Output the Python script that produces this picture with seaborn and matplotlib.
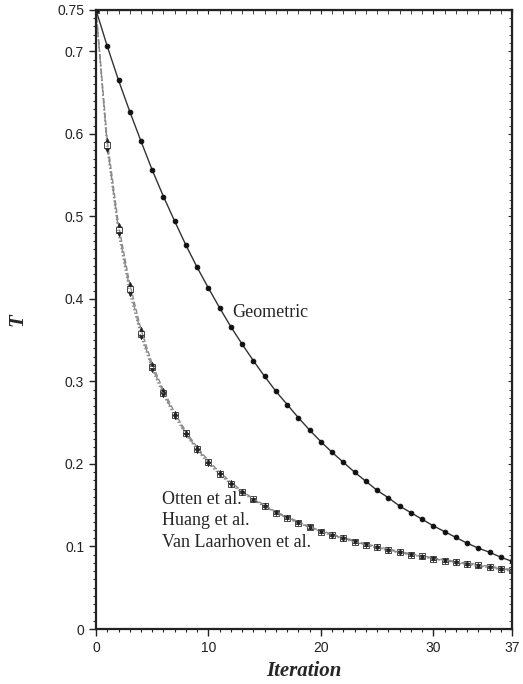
import matplotlib
matplotlib.use("Agg")
import matplotlib.pyplot as plt
from matplotlib.ticker import MultipleLocator, FixedLocator
import seaborn as sns
import pandas as pd

# iteration index and temperature series
iteration = list(range(38))
geometric = [0.750, 0.706, 0.665, 0.627, 0.591, 0.556, 0.524, 0.494, 0.465, 0.438,
             0.413, 0.389, 0.366, 0.345, 0.325, 0.306, 0.288, 0.272, 0.256, 0.241,
             0.227, 0.214, 0.202, 0.190, 0.179, 0.168, 0.159, 0.149, 0.141, 0.133,
             0.125, 0.118, 0.111, 0.104, 0.098, 0.093, 0.087, 0.082]
otten = [0.750, 0.592, 0.490, 0.418, 0.363, 0.321, 0.289, 0.262, 0.239, 0.220,
         0.204, 0.190, 0.178, 0.167, 0.158, 0.150, 0.142, 0.136, 0.130, 0.124,
         0.119, 0.115, 0.111, 0.107, 0.103, 0.100, 0.097, 0.094, 0.091, 0.089,
         0.086, 0.084, 0.082, 0.080, 0.078, 0.076, 0.074, 0.072]
huang = [0.750, 0.580, 0.478, 0.406, 0.354, 0.314, 0.283, 0.257, 0.235, 0.216,
         0.200, 0.187, 0.175, 0.165, 0.156, 0.148, 0.141, 0.134, 0.128, 0.123,
         0.118, 0.113, 0.109, 0.105, 0.102, 0.098, 0.095, 0.092, 0.090, 0.087,
         0.085, 0.083, 0.080, 0.078, 0.076, 0.074, 0.072, 0.070]
laarhoven = [0.750, 0.586, 0.484, 0.412, 0.358, 0.317, 0.286, 0.259, 0.237, 0.218,
             0.202, 0.188, 0.176, 0.166, 0.157, 0.149, 0.141, 0.135, 0.129, 0.123,
             0.118, 0.114, 0.110, 0.106, 0.102, 0.099, 0.096, 0.093, 0.090, 0.088,
             0.085, 0.083, 0.081, 0.079, 0.077, 0.075, 0.073, 0.071]

x_ticks = [0, 10, 20, 30, 37]
y_ticks = [0, 0.1, 0.2, 0.3, 0.4, 0.5, 0.6, 0.7, 0.75]
y_labels = ["0", "0.1", "0.2", "0.3", "0.4", "0.5", "0.6", "0.7", "0.75"]

df = pd.DataFrame({"Iteration": iteration, "Geometric": geometric, "Otten": otten,
                   "Huang": huang, "Laarhoven": laarhoven})

sns.set_style("ticks")
plt.rcParams["font.family"] = ["Liberation Sans", "DejaVu Sans"]

fig = plt.figure(figsize=(5.23, 6.84), dpi=100)
ax = fig.add_axes([0.1836, 0.0804, 0.7954, 0.905])

grey = "#8a8a8a"
sns.lineplot(data=df, x="Iteration", y="Laarhoven", ax=ax, color=grey, lw=1.0,
             linestyle="-.", marker="s", markersize=3.8, markerfacecolor="white",
             markeredgecolor="#444444", markeredgewidth=0.7)
sns.lineplot(data=df, x="Iteration", y="Otten", ax=ax, color=grey, lw=1.0,
             linestyle="--", marker="^", markersize=3.2, markerfacecolor="#222222",
             markeredgecolor="#222222", markeredgewidth=0.4)
sns.lineplot(data=df, x="Iteration", y="Huang", ax=ax, color=grey, lw=1.0,
             linestyle=":", marker="v", markersize=3.2, markerfacecolor="#222222",
             markeredgecolor="#222222", markeredgewidth=0.4)
sns.lineplot(data=df, x="Iteration", y="Geometric", ax=ax, color="#333333", lw=1.0,
             marker="o", markersize=3.3, markerfacecolor="#111111",
             markeredgecolor="#111111")

ax.set_xlim(0, 37)
ax.set_ylim(0, 0.75)
ax.xaxis.set_major_locator(FixedLocator(x_ticks))
ax.xaxis.set_minor_locator(MultipleLocator(1))
ax.yaxis.set_major_locator(FixedLocator(y_ticks))
ax.yaxis.set_minor_locator(MultipleLocator(0.01))
ax.set_yticklabels(y_labels)
ax.tick_params(which="major", direction="out", length=5, width=1, labelsize=10,
               colors="#222222")
ax.tick_params(which="minor", direction="out", length=2.5, width=0.8)

for s in ax.spines.values():
    s.set_visible(True)
    s.set_linewidth(1.6)
    s.set_color("#222222")

top = ax.secondary_xaxis("top")
top.xaxis.set_major_locator(FixedLocator(x_ticks))
top.xaxis.set_minor_locator(MultipleLocator(1))
top.tick_params(which="both", direction="in", labeltop=False, length=3)
right = ax.secondary_yaxis("right")
right.yaxis.set_major_locator(FixedLocator(y_ticks))
right.yaxis.set_minor_locator(MultipleLocator(0.01))
right.tick_params(which="both", direction="in", labelright=False, length=3)
right.tick_params(which="minor", length=2)

serif = ["Liberation Serif", "DejaVu Serif"]
ax.set_xlabel("Iteration", fontsize=15, fontweight="bold", fontstyle="italic", family=serif)
ax.set_ylabel("T", fontsize=15, fontweight="bold", fontstyle="italic", family=serif)
ax.xaxis.set_label_coords(0.5, -0.052)
ax.yaxis.set_label_coords(-0.165, 0.5)

ax.text(12.1, 0.384, "Geometric", fontsize=13, family=serif, va="center", ha="left")
ax.text(5.85, 0.157, "Otten et al.", fontsize=13, family=serif, va="center", ha="left")
ax.text(5.85, 0.132, "Huang et al.", fontsize=13, family=serif, va="center", ha="left")
ax.text(5.85, 0.1045, "Van Laarhoven et al.", fontsize=13, family=serif, va="center", ha="left")

fig.savefig("out.png", dpi=100)
